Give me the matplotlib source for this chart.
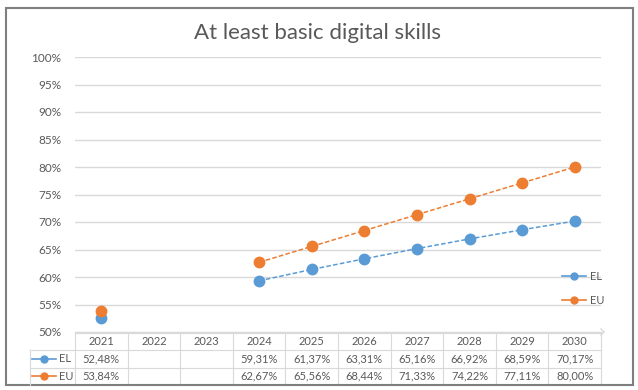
import numpy as np
import matplotlib
matplotlib.use("Agg")
import matplotlib.pyplot as plt
from matplotlib.transforms import blended_transform_factory
from matplotlib.patches import Rectangle
from matplotlib.lines import Line2D

plt.rcParams['font.family'] = ['Lato', 'DejaVu Sans']

years = ["2021", "2022", "2023", "2024", "2025", "2026", "2027", "2028", "2029", "2030"]
el = [52.48, np.nan, np.nan, 59.31, 61.37, 63.31, 65.16, 66.92, 68.59, 70.17]
eu = [53.84, np.nan, np.nan, 62.67, 65.56, 68.44, 71.33, 74.22, 77.11, 80.00]
series_names = ["EL", "EU"]
yticks = [50, 55, 60, 65, 70, 75, 80, 85, 90, 95, 100]

BLUE = "#5B9BD5"
ORANGE = "#ED7D31"
TXT = "#595959"
GRID = "#D9D9D9"

W, H = 638, 390
fig = plt.figure(figsize=(W / 100, H / 100), dpi=100)
fig.patch.set_facecolor("white")

def fx(px):
    return px / W

def fy(py):
    return 1 - py / H

left, right, top, bottom = 75, 601, 57, 332
ax = fig.add_axes([fx(left), fy(bottom), fx(right) - fx(left), fy(top) - fy(bottom)])

x = np.arange(len(years))
ax.set_xlim(-0.5, len(years) - 0.5)
ax.set_ylim(50, 100)
ax.set_yticks(yticks)
ax.set_yticklabels([f"{v}%" for v in yticks], color=TXT, fontsize=8.5)
ax.tick_params(axis='y', length=0, pad=10)
ax.set_xticks([])
for s in ["top", "right", "left"]:
    ax.spines[s].set_visible(False)
ax.spines["bottom"].set_color(GRID)
ax.grid(axis='y', color=GRID, linewidth=1)
ax.set_axisbelow(True)

colors = [BLUE, ORANGE]
handles = []
for vals, c, name in zip([el, eu], colors, series_names):
    ax.plot(x, vals, color=c, linestyle=(0, (3, 1.5)), linewidth=1.1, zorder=3)
    ax.plot(x, vals, linestyle='none', marker='o', markersize=7.5, color=c,
            markeredgecolor=c, zorder=4)
    handles.append(Line2D([0], [0], color=c, marker='o', markersize=5, linewidth=1.2, label=name))

leg = ax.legend(handles=handles, loc='upper left',
                bbox_to_anchor=(fx(562), fy(270.5)), bbox_transform=fig.transFigure,
                frameon=False, fontsize=8, labelcolor=TXT, handlelength=2.2,
                labelspacing=1.25, handletextpad=0.3, borderpad=0, borderaxespad=0)

# Data table below the axes
tr = blended_transform_factory(ax.transData, fig.transFigure)
row_tops = [333, 350, 367.5, 385]
lw = 0.8
for yy in row_tops[:-1]:
    ax.plot([-0.5, len(years) - 0.5], [fy(yy), fy(yy)], color=GRID, lw=lw, transform=tr, clip_on=False)
for k in range(len(years) + 1):
    ax.plot([k - 0.5, k - 0.5], [fy(333), fy(385)], color=GRID, lw=lw, transform=tr, clip_on=False)
fig.add_artist(Line2D([fx(30), fx(left)], [fy(350), fy(350)], color=GRID, lw=lw))
fig.add_artist(Line2D([fx(30), fx(left)], [fy(367.5), fy(367.5)], color=GRID, lw=lw))
fig.add_artist(Line2D([fx(30), fx(30)], [fy(350), fy(385)], color=GRID, lw=lw))

for k, yr in enumerate(years):
    ax.text(k, fy(341.5), yr, transform=tr, ha='center', va='center', fontsize=8, color=TXT)

for r, (vals, c, name) in enumerate(zip([el, eu], colors, series_names)):
    yc = fy((row_tops[r + 1] + row_tops[r + 2]) / 2)
    for k, v in enumerate(vals):
        if not np.isnan(v):
            ax.text(k, yc, f"{v:.2f}".replace('.', ',') + "%", transform=tr,
                    ha='center', va='center', fontsize=8, color=TXT)
    fig.add_artist(Line2D([fx(32), fx(56)], [yc, yc], color=c, lw=1.2))
    fig.add_artist(Line2D([fx(44)], [yc], color=c, marker='o', markersize=5, lw=0))
    fig.text(fx(59), yc, name, ha='left', va='center', fontsize=8, color=TXT)

# Axis arrow
fig.add_artist(Line2D([fx(601), fx(604)], [fy(bottom - 3), fy(bottom)], color=GRID, lw=1))
fig.add_artist(Line2D([fx(601), fx(604)], [fy(bottom + 3), fy(bottom)], color=GRID, lw=1))

fig.text(fx(318), fy(33), "At least basic digital skills", ha='center', va='center',
         fontsize=16, color=TXT)

fig.add_artist(Rectangle((fx(6), fy(385)), fx(627), 377 / H, fill=False,
                         edgecolor="#7F7F7F", linewidth=1.5, transform=fig.transFigure))

fig.savefig("out.png", dpi=100, facecolor="white")
